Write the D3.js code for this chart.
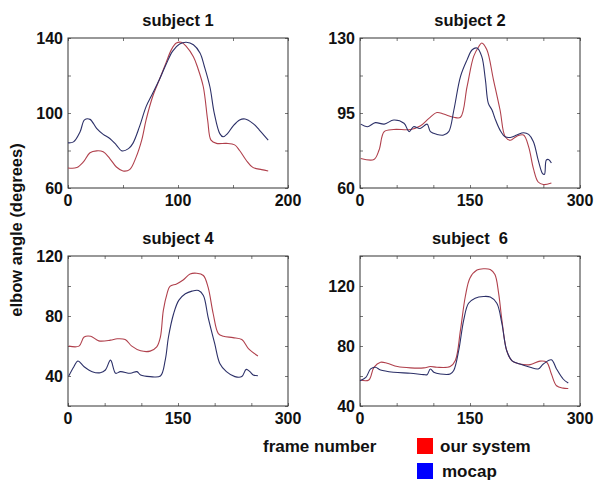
<!DOCTYPE html>
<html>
<head>
<meta charset="utf-8">
<script src="https://cdn.jsdelivr.net/npm/d3@7"></script>
<style>
  body { margin: 0; background: #fff; }
  svg text { font-family: "Liberation Sans", Arial, sans-serif; font-weight: bold; fill: #111; }
</style>
</head>
<body>
<svg id="chart" width="597" height="481"></svg>
<script>
/// data: [frame, elbow angle] ///
const sub1System = [[0,70.7],[8,70.9],[14,73.9],[20,78.8],[26,79.8],[32,79.3],[38,75.7],[44,71.2],[50,69.1],[56,69.8],[62,76.6],[67,85.5],[71,96.3],[77,108.8],[83,117.7],[89,126.6],[94,133.8],[98.5,137.3],[103,137.7],[107.5,135.5],[114,130],[118,124],[123,114],[127,96],[130,85.5],[135,83.8],[144,83.8],[151.5,83],[156,80],[162,74.8],[168,71],[176,69.8],[182,69.1]];
const sub1Mocap = [[0,84.1],[5,84.6],[11,90],[15,96.3],[20,96.6],[26,91.8],[32,88.6],[38,86.4],[44,82.9],[49,79.8],[55,81],[59,83.8],[65,92.7],[71,103.4],[77,110.5],[83,117.7],[89,125.7],[95,132.9],[101.5,136.8],[107.5,137.7],[114,136.4],[120,132],[124,124.8],[129,114],[133,99.8],[138,89],[141,87.3],[145,89],[150,93],[156,96.3],[161,96.8],[168,94.5],[174,90.9],[182,85.5]];

const sub2System = [[1,73.8],[19,73.3],[26,77.7],[33,86.3],[46,87.3],[69,87.3],[82,88.9],[94,92.5],[105,95.2],[114,94.5],[128,93],[137,93],[146,107.3],[155,121.4],[162,126],[166,127.7],[173,124.5],[182,110.5],[191,96.4],[198,83.9],[205,82.3],[214,84.2],[223,84.7],[230,79.2],[236.5,69],[243,62.8],[250,61.6],[261,62.3]];
const sub2Mocap = [[1,89.8],[10,88.6],[21,90.5],[33,89.8],[46,91.7],[60,90.2],[67,86.3],[73,88.6],[82,87.8],[91.5,89.8],[96,86.3],[105,85],[114,84.7],[121,86.3],[128,96.4],[137,112],[146,119.8],[153,124.5],[159.5,125.3],[166,121.4],[171,110.5],[175,99.5],[180,96.4],[184,92.5],[191,87],[198,83.9],[205,83.6],[214,84.7],[223,85.8],[230,85],[236.5,81.6],[243,73],[249,66.7],[251.5,66.4],[254,73],[257,73.3],[261,71.7]];

const sub4System = [[1,59.9],[15,59.9],[22,66],[31,66.5],[42,63.4],[58,63.9],[67,64.8],[78,64.3],[87,59.9],[99,56.8],[112,56.6],[121,59.4],[126,66],[130,83.8],[135,94.8],[139,99.7],[148,101.4],[157,104],[166.5,108],[175.5,108.5],[184.6,107],[191,99.2],[198,81.5],[205,68.3],[212,66.5],[225,65.6],[237,64.3],[246,58.3],[259,53.3]];
const sub4Mocap = [[1,40],[8,46.2],[13.6,50],[22,46.2],[33,42.9],[44,42.2],[51,44],[58,50.6],[65,41.8],[71.5,42.9],[85,41.8],[94,42.9],[99,40.7],[112,39.6],[126,40],[132.6,50.6],[137,66],[144,81.5],[151,90.4],[160,94.8],[169,96.6],[178,97],[184.6,93.7],[191,79.3],[200,61.7],[207,48.4],[216,42.9],[227.6,39.6],[237,39.6],[243,44.4],[248,42.9],[252.5,40.7],[259,40.2]];

const sub6System = [[0,57.3],[12,57.3],[19,65.8],[28,69.2],[37,68.5],[51,66.3],[69,65.4],[87,65.4],[96,66.3],[105,65.8],[123,66.3],[130,70.3],[137,90.6],[143.6,113],[150,125.4],[159.5,130.6],[168.5,131.5],[177.6,131],[184,127.6],[189,115.3],[193.5,97.3],[200,77],[207,70.3],[218,68],[232,67.6],[245.5,69.9],[254.5,69.2],[261,61.3],[268,53.5],[277,51.9],[284,51.7]];
const sub6Mocap = [[0,56.9],[8,59.1],[14.5,64.7],[21,65.8],[28,64],[46,62.5],[69,61.8],[87,60.9],[91.5,60.9],[96,64.7],[100.6,62.5],[109.6,61.3],[123,61.3],[127.8,63.6],[134.6,77],[141.4,97.3],[148,108.5],[157,111.9],[168.5,113],[177.6,112.6],[186.6,108.5],[193.5,95],[200,77],[207,70.3],[218,68],[232,65.8],[243,64.7],[250,68],[261,70.8],[268,64.7],[277,58],[284,55.3]];

/// panels: axis ranges and tick labels ///
const titles = ["subject 1", "subject 2", "subject 4", "subject  6"];
const xDomains = [[0, 200], [0, 300], [0, 300], [0, 300]];
const yDomains = [[60, 140], [60, 130], [20, 120], [40, 140]];
const xTickLabels = [[0, 100, 200], [0, 150, 300], [0, 150, 300], [0, 150, 300]];
const yTickLabels = [[60, 100, 140], [60, 95, 130], [40, 80, 120], [40, 80, 120]];
const xTickStep = [50, 50, 50, 50];
const yTickStep = [20, 17.5, 20, 20];
const systemSeries = [sub1System, sub2System, sub4System, sub6System];
const mocapSeries = [sub1Mocap, sub2Mocap, sub4Mocap, sub6Mocap];

const legendLabels = ["our system", "mocap"];
const legendColors = ["#ff0000", "#0000ff"];

// layout
const boxes = [
  {x: 68, y: 38}, {x: 360, y: 38},
  {x: 68, y: 256}, {x: 360, y: 256}
];
const bw = 220, bh = 150;
const systemColor = "#b0404c";
const mocapColor = "#2c3068";

const svg = d3.select("#chart");

boxes.forEach((b, i) => {
  const g = svg.append("g").attr("transform", `translate(${b.x},${b.y})`);

  const x = d3.scaleLinear().domain(xDomains[i]).range([0, bw]);
  const y = d3.scaleLinear().domain(yDomains[i]).range([bh, 0]);

  const xt = d3.range(xDomains[i][0], xDomains[i][1] + 0.01, xTickStep[i]);
  const yt = d3.range(yDomains[i][0], yDomains[i][1] + 0.01, yTickStep[i]);

  // inward tick marks on all four sides
  const tk = 3;
  g.append("g").call(d3.axisBottom(x).tickValues(xt).tickSize(-tk).tickFormat(""))
    .attr("transform", `translate(0,${bh})`);
  g.append("g").call(d3.axisTop(x).tickValues(xt).tickSize(-tk).tickFormat(""));
  g.append("g").call(d3.axisLeft(y).tickValues(yt).tickSize(-tk).tickFormat(""));
  g.append("g").call(d3.axisRight(y).tickValues(yt).tickSize(-tk).tickFormat(""))
    .attr("transform", `translate(${bw},0)`);
  g.selectAll(".domain").remove();
  g.selectAll(".tick line").attr("stroke", "#777");

  // frame
  g.append("rect").attr("width", bw).attr("height", bh)
    .attr("fill", "none").attr("stroke", "#333").attr("stroke-width", 1);

  // tick labels
  g.selectAll(".xl").data(xTickLabels[i]).join("text")
    .attr("x", d => x(d)).attr("y", bh + 18)
    .attr("text-anchor", "middle").attr("font-size", 16)
    .text(d => d);
  g.selectAll(".yl").data(yTickLabels[i]).join("text")
    .attr("x", -5).attr("y", d => y(d)).attr("dy", "0.36em")
    .attr("text-anchor", "end").attr("font-size", 16)
    .text(d => d);

  g.append("text").attr("x", bw / 2).attr("y", -12)
    .attr("text-anchor", "middle").attr("font-size", 16.5)
    .style("white-space", "pre").text(titles[i]);

  const line = d3.line().x(d => x(d[0])).y(d => y(d[1])).curve(d3.curveCatmullRom);
  g.append("path").datum(systemSeries[i]).attr("d", line)
    .attr("fill", "none").attr("stroke", systemColor).attr("stroke-width", 1.1);
  g.append("path").datum(mocapSeries[i]).attr("d", line)
    .attr("fill", "none").attr("stroke", mocapColor).attr("stroke-width", 1.1);
});

// shared labels
svg.append("text").attr("transform", "translate(22,230) rotate(-90)")
  .attr("text-anchor", "middle").attr("font-size", 16.5)
  .text("elbow angle (degrees)");

svg.append("text").attr("x", 263).attr("y", 452)
  .attr("font-size", 17).text("frame number");

const leg = svg.append("g").attr("transform", "translate(417,438)");
legendLabels.forEach((lab, i) => {
  leg.append("rect").attr("x", 0).attr("y", i * 25).attr("width", 16).attr("height", 16)
    .attr("fill", legendColors[i]);
  leg.append("text").attr("x", 23 + i * 2).attr("y", i * 25 + 14)
    .attr("font-size", 17).text(lab);
});
</script>
</body>
</html>
